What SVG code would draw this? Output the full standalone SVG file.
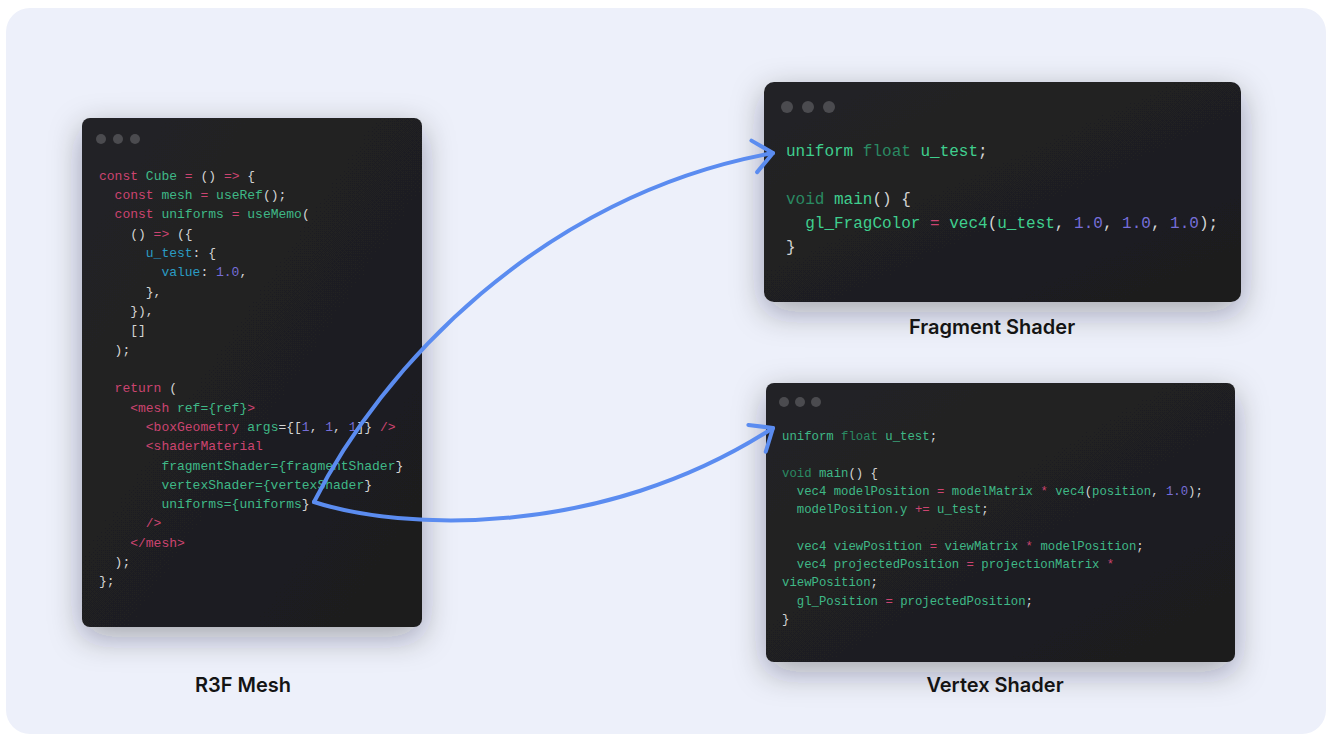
<svg xmlns="http://www.w3.org/2000/svg" width="1328" height="734" viewBox="0 0 1328 734">
<defs>
<filter id="sh" x="-30%" y="-30%" width="160%" height="160%">
<feDropShadow dx="0" dy="10" stdDeviation="16" flood-color="#1a1d2e" flood-opacity="0.35"/>
</filter>
<linearGradient id="pg" x1="0" y1="0" x2="1" y2="1">
<stop offset="0" stop-color="#232326"/>
<stop offset="1" stop-color="#1c1c1e"/>
</linearGradient>
<marker id="chev" markerUnits="userSpaceOnUse" viewBox="-30 -25 40 50" refX="0" refY="0" markerWidth="40" markerHeight="50" orient="auto" overflow="visible">
<path d="M-19,-16 L0,0 L-19,16" fill="none" stroke="#5b8cf0" stroke-width="4" stroke-linecap="round" stroke-linejoin="round"/>
</marker>
</defs>
<style>
.panel{fill:url(#pg);filter:url(#sh)}
.dot{fill:#4b4b4f}
.c{font-family:"Liberation Mono","DejaVu Sans Mono",monospace;fill:#d4d4d4;white-space:pre}
.s13{font-size:13px}
.s16{font-size:16px}
.s12{font-size:12.3px}
.k{fill:#cc4470}
.g{fill:#3fb987}
.gb{fill:#3fcf8e}
.gd{fill:#2a8a62}
.b{fill:#2a9cc4}
.n{fill:#766ed8}
.lbl{font-family:Inter,"Noto Sans","Liberation Sans",sans-serif;font-size:20px;font-weight:600;fill:#141414;text-anchor:middle}
.arrow{fill:none;stroke:#5b8cf0;stroke-width:4;stroke-linecap:round;marker-end:url(#chev)}
</style>
<rect x="6" y="8" width="1320" height="726" rx="24" fill="#edf0fa"/>

<g id="r3f-mesh">
<rect class="panel" x="82" y="118" width="340" height="509" rx="8"/>
<circle class="dot" cx="101" cy="139" r="5"/><circle class="dot" cx="118" cy="139" r="5"/><circle class="dot" cx="135" cy="139" r="5"/>
<text class="c s13" x="99" y="179.5"><tspan class="k">const</tspan> <tspan class="g">Cube</tspan> <tspan class="k">=</tspan> () <tspan class="k">=&gt;</tspan> {</text>
<text class="c s13" x="114.6" y="198.8"><tspan class="k">const</tspan> <tspan class="g">mesh</tspan> <tspan class="k">=</tspan> <tspan class="g">useRef</tspan>();</text>
<text class="c s13" x="114.6" y="218.2"><tspan class="k">const</tspan> <tspan class="g">uniforms</tspan> <tspan class="k">=</tspan> <tspan class="g">useMemo</tspan>(</text>
<text class="c s13" x="130.2" y="237.5">() <tspan class="k">=&gt;</tspan> ({</text>
<text class="c s13" x="145.8" y="256.8"><tspan class="b">u_test</tspan>: {</text>
<text class="c s13" x="161.4" y="276.2"><tspan class="b">value</tspan>: <tspan class="n">1.0</tspan>,</text>
<text class="c s13" x="145.8" y="295.5">},</text>
<text class="c s13" x="130.2" y="314.8">}),</text>
<text class="c s13" x="130.2" y="334.1">[]</text>
<text class="c s13" x="114.6" y="353.5">);</text>
<text class="c s13" x="114.6" y="392.1"><tspan class="k">return</tspan> (</text>
<text class="c s13" x="130.2" y="411.5"><tspan class="k">&lt;mesh</tspan> <tspan class="g">ref={ref}</tspan><tspan class="k">&gt;</tspan></text>
<text class="c s13" x="145.8" y="430.8"><tspan class="k">&lt;boxGeometry</tspan> <tspan class="g">args</tspan>={[<tspan class="n">1</tspan>, <tspan class="n">1</tspan>, <tspan class="n">1</tspan>]} <tspan class="k">/&gt;</tspan></text>
<text class="c s13" x="145.8" y="450.1"><tspan class="k">&lt;shaderMaterial</tspan></text>
<text class="c s13" x="161.4" y="469.5"><tspan class="g">fragmentShader={fragmentShader</tspan>}</text>
<text class="c s13" x="161.4" y="488.8"><tspan class="g">vertexShader={vertexShader</tspan>}</text>
<text class="c s13" x="161.4" y="508.1"><tspan class="g">uniforms={uniforms</tspan>}</text>
<text class="c s13" x="145.8" y="527.4"><tspan class="k">/&gt;</tspan></text>
<text class="c s13" x="130.2" y="546.8"><tspan class="k">&lt;/mesh&gt;</tspan></text>
<text class="c s13" x="114.6" y="566.1">);</text>
<text class="c s13" x="99" y="585.4">};</text>
<text class="lbl" x="243" y="692">R3F Mesh</text>
</g>

<g id="fragment-shader">
<rect class="panel" x="764" y="82" width="477" height="220" rx="10"/>
<circle class="dot" cx="787" cy="107" r="6"/><circle class="dot" cx="808" cy="107" r="6"/><circle class="dot" cx="829" cy="107" r="6"/>
<text class="c s16" x="786" y="156"><tspan class="gb">uniform</tspan> <tspan class="gd">float</tspan> <tspan class="gb">u_test</tspan>;</text>
<text class="c s16" x="786" y="204"><tspan class="gd">void</tspan> <tspan class="gb">main</tspan>() {</text>
<text class="c s16" x="805.2" y="228"><tspan class="gb">gl_FragColor</tspan> <tspan class="k">=</tspan> <tspan class="gb">vec4</tspan>(<tspan class="gb">u_test</tspan>, <tspan class="n">1.0</tspan>, <tspan class="n">1.0</tspan>, <tspan class="n">1.0</tspan>);</text>
<text class="c s16" x="786" y="252">}</text>
<text class="lbl" x="992" y="334">Fragment Shader</text>
</g>

<g id="vertex-shader">
<rect class="panel" x="766" y="383" width="469" height="279" rx="8"/>
<circle class="dot" cx="784" cy="402" r="5"/><circle class="dot" cx="800" cy="402" r="5"/><circle class="dot" cx="816" cy="402" r="5"/>
<text class="c s12" x="782" y="440"><tspan class="g">uniform</tspan> <tspan class="gd">float</tspan> <tspan class="g">u_test</tspan>;</text>
<text class="c s12" x="782" y="476.6"><tspan class="gd">void</tspan> <tspan class="g">main</tspan>() {</text>
<text class="c s12" x="796.8" y="494.9"><tspan class="g">vec4 modelPosition</tspan> <tspan class="k">=</tspan> <tspan class="g">modelMatrix</tspan> <tspan class="k">*</tspan> <tspan class="g">vec4</tspan>(<tspan class="g">position</tspan>, <tspan class="n">1.0</tspan>);</text>
<text class="c s12" x="796.8" y="513.2"><tspan class="g">modelPosition.y</tspan> <tspan class="k">+=</tspan> <tspan class="g">u_test</tspan>;</text>
<text class="c s12" x="796.8" y="549.8"><tspan class="g">vec4 viewPosition</tspan> <tspan class="k">=</tspan> <tspan class="g">viewMatrix</tspan> <tspan class="k">*</tspan> <tspan class="g">modelPosition</tspan>;</text>
<text class="c s12" x="796.8" y="568.1"><tspan class="g">vec4 projectedPosition</tspan> <tspan class="k">=</tspan> <tspan class="g">projectionMatrix</tspan> <tspan class="k">*</tspan></text>
<text class="c s12" x="782" y="586.4"><tspan class="g">viewPosition</tspan>;</text>
<text class="c s12" x="796.8" y="604.7"><tspan class="g">gl_Position</tspan> <tspan class="k">=</tspan> <tspan class="g">projectedPosition</tspan>;</text>
<text class="c s12" x="782" y="623">}</text>
<text class="lbl" x="995" y="692">Vertex Shader</text>
</g>

<g id="connectors">
<path class="arrow" d="M314,502 C380,370 540,195 773,153"/>
<path class="arrow" d="M314,502 C400,530 600,540 773,428"/>
</g>
</svg>
